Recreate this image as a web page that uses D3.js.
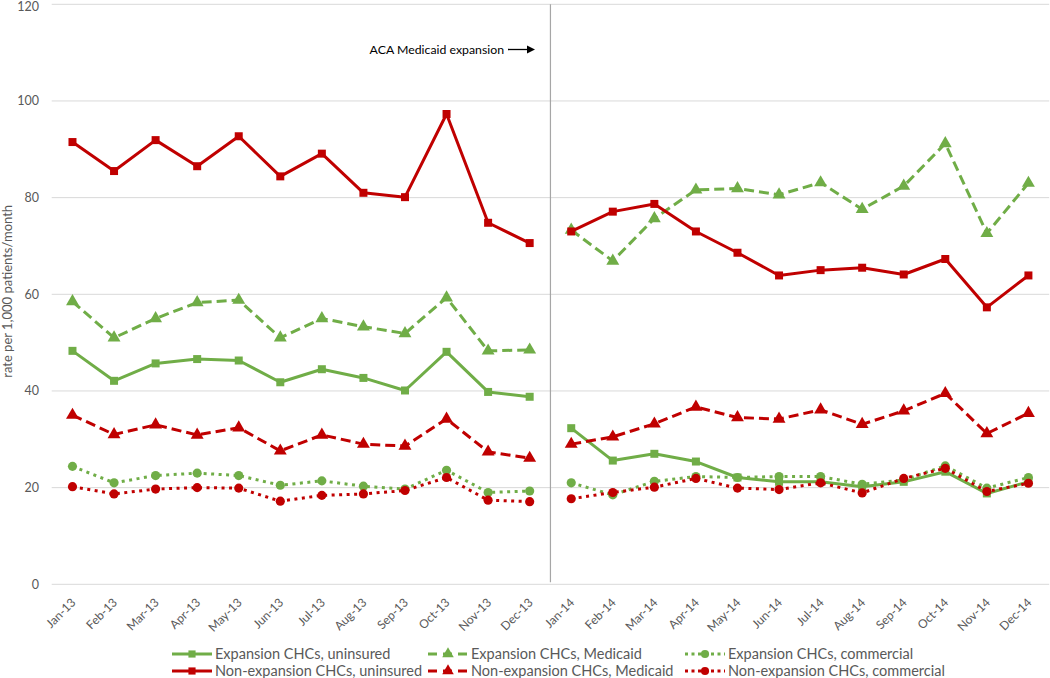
<!DOCTYPE html>
<html><head><meta charset="utf-8">
<script src="https://cdn.jsdelivr.net/npm/d3@7"></script>
<style>body{margin:0;background:#fff} text{font-family:Lato,"Open Sans",sans-serif}</style>
</head><body><svg id="c" width="1050" height="678"></svg>
<script>
const months = ["Jan-13","Feb-13","Mar-13","Apr-13","May-13","Jun-13","Jul-13","Aug-13","Sep-13","Oct-13","Nov-13","Dec-13",
                "Jan-14","Feb-14","Mar-14","Apr-14","May-14","Jun-14","Jul-14","Aug-14","Sep-14","Oct-14","Nov-14","Dec-14"];
const yTicks = [0,20,40,60,80,100,120];

const expUninsured    = [48.3,42.1,45.7,46.6,46.3,41.8,44.5,42.7,40.1,48.1,39.8,38.8, 32.3,25.6,27.0,25.4,22.1,21.2,21.2,20.2,21.2,23.3,18.8,21.2];
const expMedicaid     = [58.5,51.0,55.0,58.3,58.8,51.0,55.0,53.3,51.9,59.3,48.3,48.5, 73.3,66.9,75.7,81.6,81.9,80.6,83.1,77.6,82.4,91.2,72.6,83.0];
const expCommercial   = [24.4,21.0,22.5,23.0,22.5,20.5,21.4,20.3,19.7,23.6,19.0,19.3, 21.0,18.5,21.3,22.3,22.1,22.3,22.3,20.7,21.6,24.5,19.9,22.1];
const nonUninsured    = [91.5,85.5,91.9,86.5,92.7,84.4,89.1,81.0,80.1,97.3,74.8,70.6, 73.0,77.1,78.7,73.0,68.6,63.9,65.0,65.5,64.1,67.3,57.3,63.9];
const nonMedicaid     = [35.0,31.0,33.0,30.9,32.4,27.6,30.9,29.0,28.6,34.2,27.4,26.1, 29.0,30.5,33.2,36.7,34.5,34.2,36.1,33.1,35.9,39.5,31.2,35.4];
const nonCommercial   = [20.2,18.7,19.7,20.0,19.9,17.2,18.4,18.7,19.4,22.1,17.4,17.1, 17.7,19.0,20.1,21.9,19.9,19.6,21.0,18.9,21.9,24.0,19.2,20.9];

const seriesNames = ["Expansion CHCs, uninsured","Expansion CHCs, Medicaid","Expansion CHCs, commercial",
                     "Non-expansion CHCs, uninsured","Non-expansion CHCs, Medicaid","Non-expansion CHCs, commercial"];
const seriesValues = [expUninsured, expMedicaid, expCommercial, nonUninsured, nonMedicaid, nonCommercial];

const GREEN = "#70ad47", RED = "#c00000";
const styles = [
  {color:GREEN, dash:null,   legDash:null,  sym:d3.symbolSquare,   size:64},
  {color:GREEN, dash:"10,5", legDash:"9,6", sym:d3.symbolTriangle, size:72},
  {color:GREEN, dash:"3,4.5",legDash:"3,3.5", sym:d3.symbolCircle, size:66},
  {color:RED,   dash:null,   legDash:null,  sym:d3.symbolSquare,   size:64},
  {color:RED,   dash:"10,5", legDash:"9,6", sym:d3.symbolTriangle, size:72},
  {color:RED,   dash:"3,4.5",legDash:"3,3.5", sym:d3.symbolCircle, size:66}
];

const svg = d3.select("#c");
const pLeft = 51.7, pRight = 1049.2, pTop = 4.3, pBottom = 584.3;
const x = d3.scaleBand().domain(months).range([pLeft, pRight]);
const y = d3.scaleLinear().domain([0,120]).range([pBottom, pTop]);
const cx = m => x(m) + x.bandwidth()/2;

// gridlines
svg.append("g").selectAll("line").data(yTicks).join("line")
  .attr("x1", pLeft).attr("x2", pRight)
  .attr("y1", d=>y(d)).attr("y2", d=>y(d))
  .attr("stroke", "#d9d9d9").attr("stroke-width", 1);

// y tick labels
svg.append("g").selectAll("text").data(yTicks).join("text")
  .attr("x", 39).attr("y", d=>Math.max(y(d), 6.5)).attr("dy","0.35em")
  .attr("text-anchor","end").attr("fill","#595959").attr("font-size", 12.5)
  .text(d=>d);

// x tick labels
svg.append("g").selectAll("text").data(months).join("text")
  .attr("transform", d=>`translate(${cx(d)+1},${pBottom+16}) rotate(-45)`)
  .attr("text-anchor","end").attr("fill","#595959").attr("font-size", 12)
  .attr("dy","0.35em")
  .text(d=>d);

// y axis title
svg.append("text")
  .attr("transform", `translate(12,${(y(40)+y(80))/2 - 3}) rotate(-90)`)
  .attr("text-anchor","middle").attr("fill","#595959").attr("font-size", 13)
  .text("rate per 1,000 patients/month");

// divider
const divX = x(months[12]);
svg.append("line").attr("x1", divX).attr("x2", divX).attr("y1", pTop).attr("y2", pBottom-2)
  .attr("stroke","#a6a6a6").attr("stroke-width",1.2);

// annotation
svg.append("text").attr("x", 504).attr("y", 50).attr("dy","0.35em")
  .attr("text-anchor","end").attr("font-size", 12.3).attr("fill","#000")
  .text("ACA Medicaid expansion");
svg.append("line").attr("x1", 508).attr("x2", 528).attr("y1", 49.5).attr("y2", 49.5)
  .attr("stroke","#000").attr("stroke-width",1.3);
svg.append("path").attr("d", "M527,45.5 L535,49.5 L527,53.5 Z").attr("fill","#000");

// series
const line = d3.line().x(d=>cx(d.m)).y(d=>y(d.v));
seriesValues.forEach((vals, si) => {
  const st = styles[si];
  const pts = vals.map((v,i)=>({m:months[i], v}));
  const g = svg.append("g");
  [pts.slice(0,12), pts.slice(12)].forEach(seg => {
    g.append("path").attr("d", line(seg)).attr("fill","none")
      .attr("stroke", st.color).attr("stroke-width", 3)
      .attr("stroke-dasharray", st.dash)
      .attr("stroke-linejoin","round");
  });
  g.selectAll(".m").data(pts).join("path")
    .attr("transform", d=>`translate(${cx(d.m)},${y(d.v)})`)
    .attr("d", d3.symbol(st.sym, st.size)())
    .attr("fill", st.color);
});

// legend
const legCols = [172, 428, 685];
const legRows = [654, 671];
seriesNames.forEach((name, si) => {
  const st = styles[si];
  const lx = legCols[si % 3], ly = legRows[Math.floor(si / 3)];
  const g = svg.append("g");
  g.append("line").attr("x1", lx).attr("x2", lx+40).attr("y1", ly).attr("y2", ly)
    .attr("stroke", st.color).attr("stroke-width", 3).attr("stroke-dasharray", st.legDash);
  g.append("path").attr("transform", `translate(${lx+20},${ly})`)
    .attr("d", d3.symbol(st.sym, st.size*0.8)()).attr("fill", st.color);
  g.append("text").attr("x", lx+43).attr("y", ly).attr("dy","0.35em")
    .attr("font-size", 14.5).attr("fill","#595959").text(name);
});
</script></body></html>
